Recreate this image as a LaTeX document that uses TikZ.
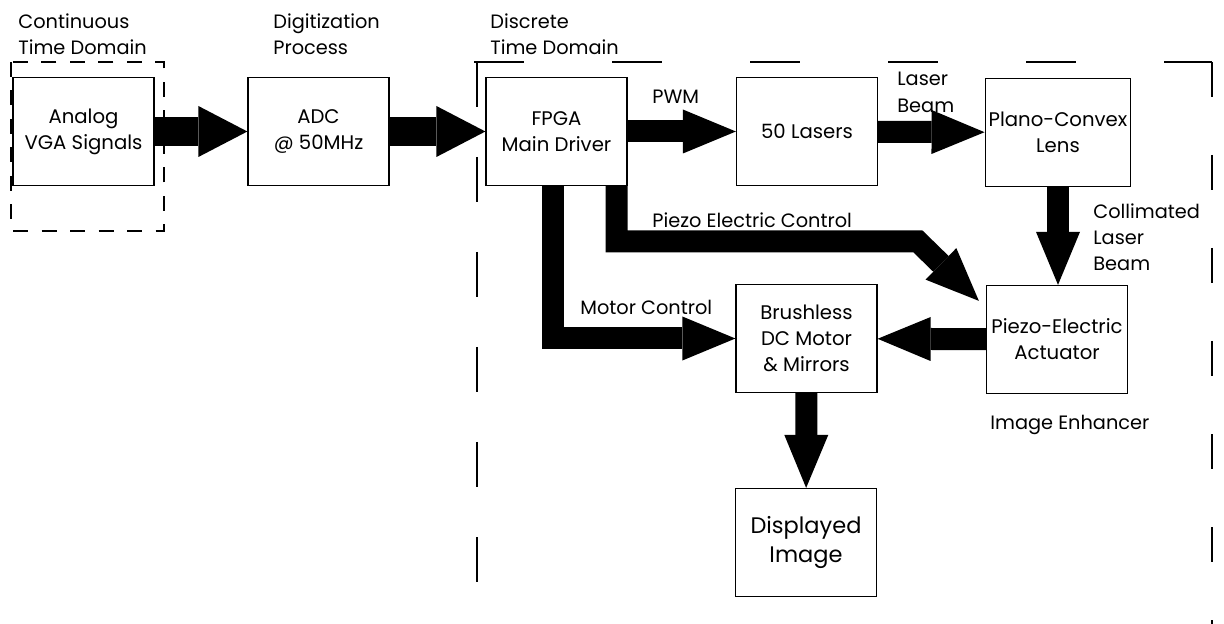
\documentclass[tikz,border=0pt]{standalone}
\usepackage{fontspec}
\setmainfont{Poppins}
\usepackage{tikz}
\usetikzlibrary{arrows.meta,positioning}

\begin{document}
\begin{tikzpicture}[%
  block/.style={draw=black,line width=0.7pt,minimum width=2.82cm,minimum height=2.16cm,
    inner xsep=2pt,align=center,font=\fontsize{11.2}{14.8}\selectfont},
  desc/.style={anchor=north west,align=left,inner sep=0pt,font=\fontsize{11}{15}\selectfont},
  bigarrow/.style={line width=0.58cm,-{Triangle[length=0.98cm,width=1.02cm,line width=0pt]}},
  thickarrow/.style={line width=0.44cm,-{Triangle[length=1.06cm,width=0.88cm,line width=0pt]}},
  zoneline/.style={draw=black,line width=0.6pt}
]
  \useasboundingbox (0,0) rectangle (24.48,-12.48);

  \node (analog)   at (1.67,-2.63)  [block] {Analog\\VGA Signals};
  \node (adc)      at (6.37,-2.63)  [block] {ADC\\@ 50MHz};
  \node (fpga)     at (11.13,-2.63) [block] {FPGA\\Main Driver};
  \node (lasers)   at (16.14,-2.63) [block] {50 Lasers};
  \node (lens)     at (21.16,-2.65) [block] {Plano-Convex\\Lens};
  \node (actuator) at (21.14,-6.79) [block] {Piezo-Electric\\Actuator};
  \node (motor)    at (16.13,-6.77) [block] {Brushless\\DC Motor\\\& Mirrors};
  \node (display)  at (16.12,-10.85) [block,font=\fontsize{12.8}{17}\selectfont] {Displayed\\Image};

  % continuous domain and discrete domain borders
  \draw [zoneline,dash pattern=on 0.3cm off 0.27cm] (0.22,-1.24) rectangle (3.28,-4.62);
  \draw [zoneline,dash pattern=on 1cm off 1.76cm] (9.48,-1.24) -- (24.24,-1.24);
  \draw [zoneline,dash pattern=on 0.7cm off 1.16cm] (24.24,-1.24) -- (24.24,-12.48);
  \draw [zoneline,dash pattern=on 0.9cm off 1.0cm] (9.54,-1.24) -- (9.54,-12.48);

  \draw [bigarrow] (analog) -- (adc);
  \draw [bigarrow] (adc) -- (fpga);
  \draw [thickarrow] (fpga) -- (lasers);
  \draw [thickarrow] (lasers) -- (lens);
  \draw [thickarrow] (lens.south) -- (lens.south |- actuator.north);
  \draw [thickarrow] (actuator) -- (motor);
  \draw [thickarrow] (motor) -- (display);
  \draw [thickarrow] ([xshift=-0.08cm]fpga.south) |- (motor.west);

  \coordinate (bend) at (18.36,-4.83);
  \coordinate (piezotip) at ([xshift=-0.14cm,yshift=-0.32cm]actuator.north west);
  \draw [thickarrow] ([xshift=-0.22cm]fpga.south east) |- (bend) -- (piezotip);

  \node at (0.36,-0.26)  [desc] {Continuous\\Time Domain};
  \node at (5.46,-0.26)  [desc] {Digitization\\Process};
  \node at (9.8,-0.26)   [desc] {Discrete\\Time Domain};
  \node at (13.04,-1.80) [desc] {PWM};
  \node at (17.94,-1.44) [desc] {Laser\\Beam};
  \node at (21.86,-4.06) [desc] {Collimated\\Laser\\Beam};
  \node at (13.04,-4.24) [desc] {Piezo Electric Control};
  \node at (11.6,-6.0)   [desc] {Motor Control};
  \node at (19.8,-8.30)  [desc] {Image Enhancer};
\end{tikzpicture}
\end{document}
